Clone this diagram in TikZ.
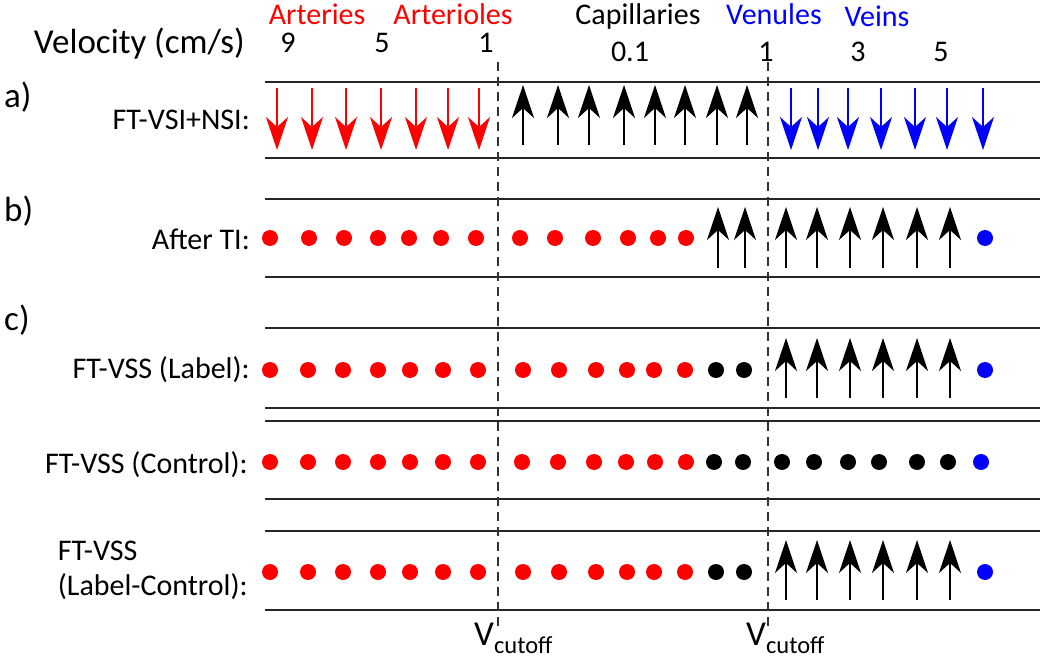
\documentclass[tikz,border=0pt]{standalone}
\usepackage{fontspec}
\setmainfont{Carlito}
\usetikzlibrary{arrows.meta}
\tikzset{
  txt/.style={font=\fontsize{30}{35}\selectfont, inner sep=0pt},
  bigtxt/.style={font=\fontsize{35}{40}\selectfont, inner sep=0pt},
  rowline/.style={line width=1.6pt, black!85},
  cutline/.style={line width=1.2pt, black!80, dash pattern=on 9pt off 6pt},
  flow/.style={-{Stealth[length=33pt,width=22pt,inset=10pt]}},
  rdot/.style={circle, fill=red, inner sep=0pt, minimum size=16pt},
  kdot/.style={circle, fill=black, inner sep=0pt, minimum size=16pt},
  bdot/.style={circle, fill=blue, inner sep=0pt, minimum size=16pt},
}
\begin{document}
\begin{tikzpicture}[x=1pt, y=-1pt]
\useasboundingbox (0,0) rectangle (1049,668);
% vessel names
\node[txt, red, anchor=base] (art) at (317,25) {Arteries};
\node[txt, red, anchor=base] (artl) at (453,25) {Arterioles};
\node[txt, anchor=base] (cap) at (638,25) {Capillaries};
\node[txt, blue, anchor=base] (ven) at (774,25) {Venules};
\node[txt, blue, anchor=base] (vein) at (877,27) {Veins};
% velocities
\node[bigtxt, anchor=base east] (vel) at (245,54) {Velocity (cm/s)};
\node[txt, anchor=base] (v9) at (288,53) {9};
\node[txt, anchor=base] (v5) at (382,53) {5};
\node[txt, anchor=base] (v1) at (486,53) {1};
\node[txt, anchor=base] (v01) at (630,62) {0.1};
\node[txt, anchor=base] (w1) at (766,62) {1};
\node[txt, anchor=base] (w3) at (858,62) {3};
\node[txt, anchor=base] (w5) at (941,62) {5};
% row labels
\node[bigtxt, anchor=base west] (pa) at (4,108) {a)};
\node[bigtxt, anchor=base west] (pb) at (4,222) {b)};
\node[bigtxt, anchor=base west] (pc) at (4,330) {c)};
\node[txt, anchor=base east] (la) at (250,130) {FT-VSI+NSI:};
\node[txt, anchor=base east] (lb) at (250,250) {After TI:};
\node[txt, anchor=base east] (lc) at (250,378) {FT-VSS (Label):};
\node[txt, anchor=base east] (ld) at (248,473) {FT-VSS (Control):};
\node[txt, anchor=east, align=left] (le) at (248,570) {FT-VSS\\(Label-Control):};
% row borders
\foreach \y in {82,158,199,277,328,408,421,499,531,610}
  \draw[rowline] (265,\y) -- (1040,\y);
% cutoff lines
\coordinate (c1t) at (498,62);
\coordinate (c1b) at (498,628);
\coordinate (c2t) at (768,62);
\coordinate (c2b) at (768,628);
\draw[cutline] (c1t) -- (c1b);
\draw[cutline] (c2t) -- (c2b);
\node[bigtxt, anchor=base west] (cut1) at (474,645) {V\textsubscript{cutoff}};
\node[bigtxt, anchor=base west] (cut2) at (746,645) {V\textsubscript{cutoff}};
% a) FT-VSI+NSI
\foreach \x in {277,312,346,381,416,448,479}
  \draw[flow, red, line width=1.5pt] (\x,88) -- (\x,150);
\foreach \x in {523,558,589,624,655,685,717,747}
  \draw[flow, line width=2pt] (\x,145) -- (\x,85);
\foreach \x in {791,818,848,881,915,947,983}
  \draw[flow, blue, line width=1.5pt] (\x,88) -- (\x,150);
% b) after TI
\foreach \x [count=\i] in {270,309,344,378,409,441,476,520,555,593,628,658,686}
  \node[rdot] (b\i) at (\x,238) {};
\foreach \x in {718,745,786,817,850,883,917,950}
  \draw[flow, line width=2pt] (\x,268) -- (\x,207);
\node[bdot] (bend) at (985,238) {};
% c) label
\foreach \x [count=\i] in {270,308,343,378,410,443,478,523,559,596,627,654,685}
  \node[rdot] (c\i) at (\x,370) {};
\node[kdot] (ck1) at (716,370) {};
\node[kdot] (ck2) at (744,370) {};
\foreach \x in {786,817,850,883,917,950}
  \draw[flow, line width=2pt] (\x,398) -- (\x,338);
\node[bdot] (cend) at (985,370) {};
% c) control
\foreach \x [count=\i] in {270,308,343,378,410,443,478,522,558,594,626,655,686}
  \node[rdot] (d\i) at (\x,462) {};
\foreach \x [count=\i] in {714,743,782,814,848,879,917,948}
  \node[kdot] (dk\i) at (\x,462) {};
\node[bdot] (dend) at (981,462) {};
% c) label-control
\foreach \x [count=\i] in {270,308,343,378,410,443,478,523,559,596,627,654,685}
  \node[rdot] (e\i) at (\x,572) {};
\node[kdot] (ek1) at (716,572) {};
\node[kdot] (ek2) at (744,572) {};
\foreach \x in {786,817,850,883,917,950}
  \draw[flow, line width=2pt] (\x,600) -- (\x,540);
\node[bdot] (eend) at (985,572) {};
\end{tikzpicture}
\end{document}
